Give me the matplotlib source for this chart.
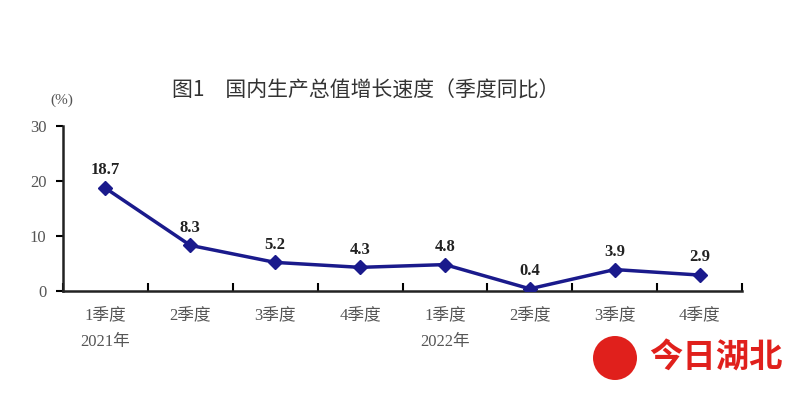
import matplotlib
matplotlib.use("Agg")
import matplotlib.pyplot as plt
from matplotlib.patches import Ellipse

quarters = ["1季度", "2季度", "3季度", "4季度", "1季度", "2季度", "3季度", "4季度"]
values = [18.7, 8.3, 5.2, 4.3, 4.8, 0.4, 3.9, 2.9]
years = ["2021年", "2022年"]
yticks = [0, 10, 20, 30]
title = "图1　国内生产总值增长速度（季度同比）"

serif = ["Liberation Serif", "Noto Sans CJK SC"]
cjk = ["Noto Sans CJK SC", "DejaVu Sans"]

fig = plt.figure(figsize=(8, 3.93), dpi=100)
ax = fig.add_axes([63/800, 1-291/393, (742-63)/800, (291-126)/393])

x = list(range(len(values)))
line_color = "#1a1a8c"
ax.plot(x, values, color=line_color, lw=2.5, marker="D", ms=7, mfc=line_color, mec=line_color, zorder=3)
for xi, v in zip(x, values):
    ax.annotate(f"{v:.1f}", (xi, v), xytext=(0, 7), textcoords="offset points",
                ha="center", va="bottom", fontsize=12, fontweight="bold", family=serif, color="#222222")

ax.set_xlim(-0.5, len(values) - 0.5)
ax.set_ylim(0, 30)
ax.set_yticks(yticks)
ax.set_yticklabels([str(t) for t in yticks], family=serif, fontsize=12, color="#555555")
ax.tick_params(axis="y", direction="out", length=5, width=1.5, pad=7)

ax.set_xticks([i + 0.5 for i in range(-1, len(values))])
ax.set_xticklabels([])
ax.tick_params(axis="x", direction="in", length=6, width=1.5)
ax.set_xticks(x, minor=True)
ax.set_xticklabels(quarters, minor=True, family=serif, fontsize=12, color="#555555")
ax.tick_params(axis="x", which="minor", length=0, pad=12)

for s in ["top", "right"]:
    ax.spines[s].set_visible(False)
for s in ["left", "bottom"]:
    ax.spines[s].set_linewidth(1.8)
    ax.spines[s].set_color("#222222")

ax.text(0, -0.31, years[0], transform=ax.get_xaxis_transform(), ha="center", va="center",
        fontsize=12, family=serif, color="#555555")
ax.text(4, -0.31, years[1], transform=ax.get_xaxis_transform(), ha="center", va="center",
        fontsize=12, family=serif, color="#555555")

fig.text(62/800, 1-100/393, "(%)", ha="center", va="center", fontsize=11, family=serif, color="#555555")
fig.text(366/800, 1-91/393, title, ha="center", va="center", fontsize=15, family=cjk,
         color="#333333", fontweight="medium")

# watermark
fig.patches.append(Ellipse((615/800, 1-358/393), 44/800, 44/393, transform=fig.transFigure,
                           facecolor="#e0201c", edgecolor="none"))
fig.text(716/800, 1-358/393, "今日湖北", ha="center", va="center", fontsize=24,
         family=cjk, color="#e0201c", fontweight="bold")

fig.savefig("out.png", dpi=100, facecolor="white")
